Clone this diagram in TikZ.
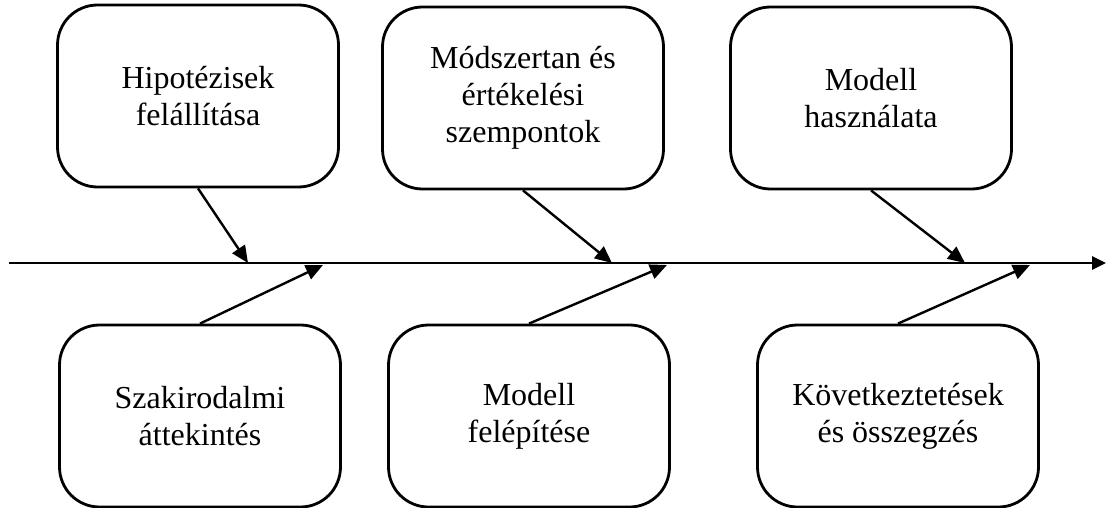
\documentclass[tikz,border=0pt]{standalone}
\usepackage{fontspec}
\setmainfont{Liberation Serif}
\usetikzlibrary{arrows.meta}
\begin{document}
\begin{tikzpicture}[
                  x=1pt, y=-1pt,
                  phase/.style={draw, line width=2.8pt, rounded corners=40pt,
                    minimum width=281pt, minimum height=182pt, inner sep=0pt,
                    align=center, font=\fontsize{32}{37}\selectfont},
                  feed/.style={line width=2.4pt, -{Triangle[length=17pt, width=15pt]}}
                ]
                  \useasboundingbox (0,0) rectangle (1106,508);
                  % main line
                  \coordinate (start) at (9,263);
                  \coordinate (end) at (1106,263);
                  \draw[line width=2.8pt, -{Triangle[length=14pt, width=13pt]}] (start) -- (end);
                  % upper boxes
                  \node[phase] (hipo) at (198,96) {Hipotézisek\\felállítása};
                  \node[phase] (modszer) at (523,98) {Módszertan és\\értékelési\\szempontok};
                  \node[phase] (hasznal) at (871,98) {Modell\\használata};
                  % lower boxes
                  \node[phase] (szakirod) at (200,416) {Szakirodalmi\\áttekintés};
                  \node[phase] (felepit) at (529,416) {Modell\\felépítése};
                  \node[phase] (kovetk) at (898,416) {Következtetések\\és összegzés};
                  % arrow tips on the main line
                  \coordinate (t1) at (248,263);
                  \coordinate (t2) at (323,265);
                  \coordinate (t3) at (612,263);
                  \coordinate (t4) at (667,265);
                  \coordinate (t5) at (965,263);
                  \coordinate (t6) at (1030,265);
                  \draw[feed] (hipo.south) -- (t1);
                  \draw[feed] (szakirod.north) -- (t2);
                  \draw[feed] (modszer.south) -- (t3);
                  \draw[feed] (felepit.north) -- (t4);
                  \draw[feed] (hasznal.south) -- (t5);
                  \draw[feed] (kovetk.north) -- (t6);
                \end{tikzpicture}
\end{document}
